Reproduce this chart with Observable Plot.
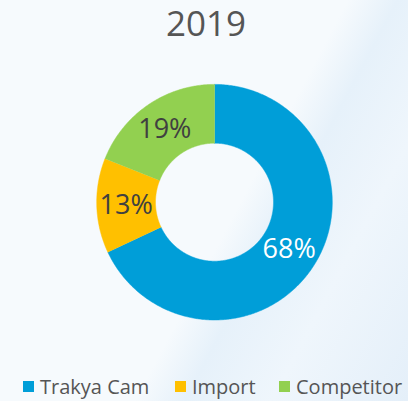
<!DOCTYPE html>
<html>
<head>
<meta charset="utf-8">
<script src="https://cdn.jsdelivr.net/npm/d3@7"></script>
<script src="https://cdn.jsdelivr.net/npm/@observablehq/plot@0.6"></script>
<style>
  html, body { margin: 0; padding: 0; }
  body {
    width: 408px; height: 401px; overflow: hidden;
    font-family: "Open Sans", sans-serif;
    background: linear-gradient(118deg, #f6fafd 0%, #f6fafd 56%, #e6f1fa 64%, #eff6fc 78%, #e4eff9 100%);
    position: relative;
  }
  #title {
    position: absolute; left: 0; top: 0; width: 408px; text-align: center;
    font-size: 35px; color: #555555; line-height: 46px; padding-left: 4px; box-sizing: border-box;
  }
  #chart { position: absolute; left: 0; top: 56px; }
  #legend {
    position: absolute; left: 0; top: 373px; width: 408px; height: 28px;
    font-size: 20px; color: #555555; white-space: nowrap;
  }
  .item { position: absolute; top: 0; line-height: 28px; }
  .sw { position: absolute; width: 11px; height: 11px; top: 8px; }
  .lab { position: absolute; left: 17px; top: 0; }
</style>
</head>
<body>
<div id="title">2019</div>
<div id="chart"></div>
<div id="legend"></div>
<script>
const categories = ["Trakya Cam", "Import", "Competitor"];
const values = [68, 13, 19];
const colors = ["#009ed8", "#ffc000", "#92d050"];
const labelColors = ["#ffffff", "#404040", "#404040"];
const legendX = [23, 175, 279];

const W = 408, H = 300;
const cxPx = 214, cyPx = 145.7, R = 117.8, r0 = 59;
const rIn = r0 / R;

const total = d3.sum(values);
// slices clockwise from 12 o'clock
const slices = [];
let acc = 0;
categories.forEach((c, i) => {
  const a0 = acc / total * 2 * Math.PI;
  acc += values[i];
  const a1 = acc / total * 2 * Math.PI;
  slices.push({cat: c, value: values[i], a0, a1, i});
});

const polyPts = [];
for (const s of slices) {
  const n = Math.max(8, Math.ceil((s.a1 - s.a0) / 0.01));
  for (let k = 0; k <= n; k++) {
    const a = s.a0 + (s.a1 - s.a0) * k / n;
    polyPts.push({cat: s.cat, x: Math.sin(a), y: Math.cos(a)});
  }
  for (let k = n; k >= 0; k--) {
    const a = s.a0 + (s.a1 - s.a0) * k / n;
    polyPts.push({cat: s.cat, x: rIn * Math.sin(a), y: rIn * Math.cos(a)});
  }
}

const labelR = (1 + rIn) / 2;
const labels = slices.map(s => {
  const m = (s.a0 + s.a1) / 2;
  return {cat: s.cat, text: s.value + "%", x: labelR * Math.sin(m), y: labelR * Math.cos(m), col: labelColors[s.i]};
});

const xDomain = [-cxPx / R, (W - cxPx) / R];
const yDomain = [-(H - cyPx) / R, cyPx / R];

const plot = Plot.plot({
  width: W, height: H,
  margin: 0,
  x: {domain: xDomain, axis: null},
  y: {domain: yDomain, axis: null},
  color: {domain: categories, range: colors},
  style: {background: "transparent", fontFamily: "Open Sans, sans-serif"},
  marks: [
    Plot.line(polyPts, {x: "x", y: "y", z: "cat", fill: "cat", stroke: "cat", strokeWidth: 0.5, curve: "linear"}),
    Plot.text(labels, {x: "x", y: "y", text: "text", fill: "col", fontSize: 27})
  ]
});
document.getElementById("chart").appendChild(plot);

const leg = document.getElementById("legend");
categories.forEach((c, i) => {
  const it = document.createElement("div");
  it.className = "item";
  it.style.left = legendX[i] + "px";
  it.innerHTML = `<span class="sw" style="background:${colors[i]}"></span><span class="lab">${c}</span>`;
  leg.appendChild(it);
});
</script>
</body>
</html>
